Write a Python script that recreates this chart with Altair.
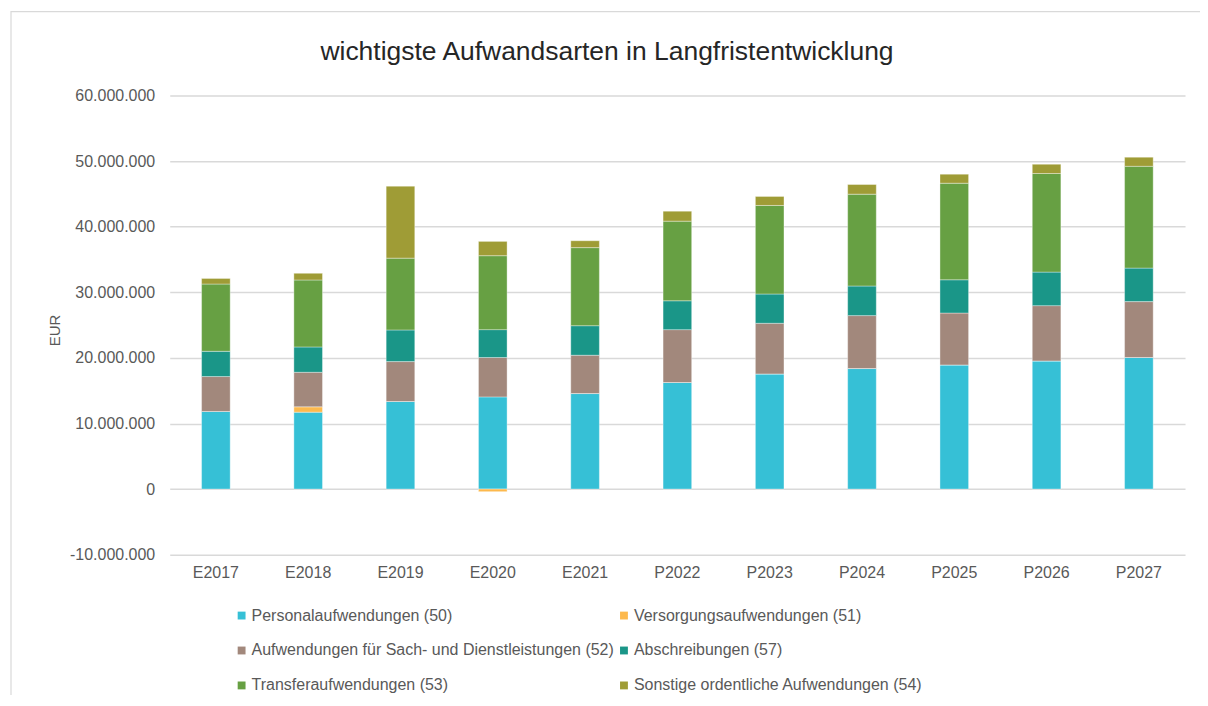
import altair as alt
import pandas as pd

years = ["E2017", "E2018", "E2019", "E2020", "E2021", "P2022", "P2023", "P2024", "P2025", "P2026", "P2027"]

series_names = [
    "Personalaufwendungen (50)",
    "Versorgungsaufwendungen (51)",
    "Aufwendungen für Sach- und Dienstleistungen (52)",
    "Abschreibungen (57)",
    "Transferaufwendungen (53)",
    "Sonstige ordentliche Aufwendungen (54)",
]
series_colors = ["#36C0D6", "#FDB94D", "#A2887C", "#1A9688", "#67A043", "#9F9C36"]

title_text = "wichtigste Aufwandsarten in Langfristentwicklung"

# values in million EUR
personal = [11.83, 11.72, 13.35, 14.05, 14.56, 16.24, 17.55, 18.37, 18.92, 19.53, 20.05]
versorgung = [0.0, 0.81, 0.0, -0.40, 0.0, 0.0, 0.0, 0.0, 0.0, 0.0, 0.0]
sach = [5.32, 5.27, 6.08, 6.00, 5.84, 8.06, 7.72, 8.07, 7.91, 8.43, 8.52]
abschr = [3.85, 3.86, 4.82, 4.25, 4.50, 4.40, 4.46, 4.51, 5.07, 5.11, 5.11]
transfer = [10.25, 10.21, 10.95, 11.27, 11.90, 12.14, 13.50, 14.00, 14.72, 15.03, 15.52]
sonstige = [0.85, 1.01, 10.97, 2.18, 1.05, 1.52, 1.37, 1.47, 1.37, 1.41, 1.38]

all_series = [personal, versorgung, sach, abschr, transfer, sonstige]

rows = []
for si, (name, vals) in enumerate(zip(series_names, all_series)):
    for yr, v in zip(years, vals):
        rows.append({"Jahr": yr, "Art": name, "Wert": v * 1e6, "ord": si})
df = pd.DataFrame(rows)

# legend is filled column by column: reorder so it reads row by row
legend_order = [0, 2, 4, 1, 3, 5]
legend_domain = [series_names[i] for i in legend_order]
legend_range = [series_colors[i] for i in legend_order]

FONT = "Liberation Sans"

bars = alt.Chart(df).mark_bar(stroke="white", strokeWidth=0.6, strokeOpacity=0.6).encode(
    x=alt.X("Jahr:N", sort=years,
            scale=alt.Scale(paddingInner=0.69, paddingOuter=0.345),
            axis=alt.Axis(title=None, labelAngle=0, ticks=False, domain=False,
                          labelFont=FONT, labelFontSize=16, labelColor="#595959",
                          labelPadding=10, grid=False)),
    y=alt.Y("Wert:Q", stack="zero",
            scale=alt.Scale(domain=[-10e6, 60e6], nice=False),
            axis=alt.Axis(title="EUR", values=[-10e6, 0, 10e6, 20e6, 30e6, 40e6, 50e6, 60e6],
                          format=",.0f", ticks=False, domain=False,
                          labelFont=FONT, labelFontSize=16, labelColor="#595959",
                          labelPadding=15, gridColor="#d9d9d9", gridWidth=1.5,
                          titleFont=FONT, titleFontSize=15, titleFontWeight="normal",
                          titleColor="#595959", titleX=-115, titleY=235,
                          titleAngle=270, titleAlign="center", titleBaseline="middle")),
    color=alt.Color("Art:N",
                    scale=alt.Scale(domain=legend_domain, range=legend_range),
                    legend=alt.Legend(title=None, orient="none", legendX=64, legendY=513,
                                      columns=2, columnPadding=2, rowPadding=19,
                                      symbolType="square", symbolSize=62,
                                      symbolStrokeWidth=0, labelOffset=2,
                                      labelFont=FONT, labelFontSize=16, labelColor="#595959",
                                      labelLimit=500)),
    order=alt.Order("ord:Q"),
)

frame = alt.Chart(pd.DataFrame({"a": [0]})).mark_rect(
    fill=None, stroke="#d9d9d9", strokeWidth=1.2
).encode(
    x=alt.value(-159), x2=alt.value(1045), y=alt.value(-84), y2=alt.value(620)
)

title = alt.Chart(pd.DataFrame({"t": [title_text]})).mark_text(
    font=FONT, fontSize=26.5, color="#262626", align="center", baseline="alphabetic"
).encode(
    text="t:N", x=alt.value(438), y=alt.value(-35)
)

chart = alt.layer(frame, bars, title).properties(
    width=1017,
    height=460,
    autosize=alt.AutoSizeParams(type="none"),
    padding={"left": 162, "top": 87, "right": 15, "bottom": 140},
).configure(
    locale={"number": {"decimal": ",", "thousands": ".", "grouping": [3],
                       "currency": ["", " €"], "minus": "-"}}
).configure_view(stroke=None)

chart.save("out.html", embed_options={"renderer": "svg", "actions": False})
